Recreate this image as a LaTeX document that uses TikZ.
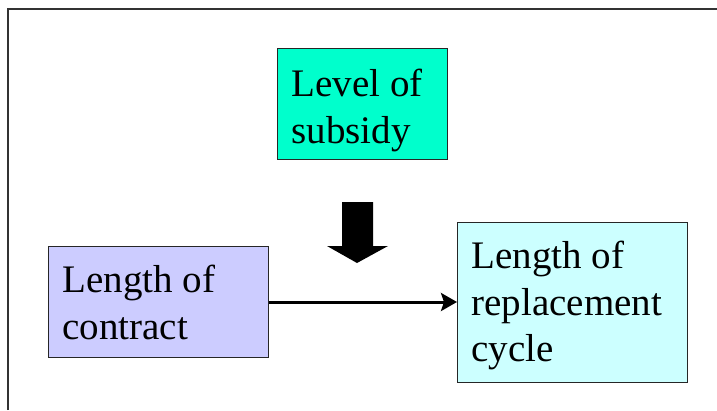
\documentclass[tikz,border=0pt]{standalone}
\usepackage{fontspec}
\setmainfont{Liberation Serif}
\usetikzlibrary{arrows.meta}

\definecolor{subsidyfill}{HTML}{00FFCC}
\definecolor{contractfill}{HTML}{CCCCFF}
\definecolor{cyclefill}{HTML}{CCFFFF}
\definecolor{framegray}{HTML}{333333}

% box text: width, height, first-baseline drop, lines
\newcommand{\boxlines}[4]{\parbox[t][#2pt][t]{#1pt}{\rule{0pt}{#3pt}#4}}

\begin{document}
\begin{tikzpicture}[x=1pt, y=-1pt,
  box/.style={draw=black!85, line width=1pt, anchor=north west,
    inner xsep=14pt, inner ysep=0pt,
    font=\fontsize{39}{46.5}\selectfont},
  link/.style={line width=3pt, -{Stealth[length=16pt, width=18pt, inset=3pt]}},
  blockarrow/.style={fill=black}]
  \useasboundingbox (0,0) rectangle (717,410);

  % slide frame (top and left edges)
  \draw[framegray, line width=2pt] (8,410) -- (8,8.5) -- (717,8.5);

  \node[box, fill=subsidyfill] (subsidy) at (277,48)
    {\boxlines{142}{111}{48}{Level of\\subsidy}};
  \node[box, fill=contractfill] (contract) at (48,246)
    {\boxlines{192}{111}{46}{Length of\\contract}};
  \node[box, fill=cyclefill] (cycle) at (457,222)
    {\boxlines{202}{160}{46}{Length of\\replacement\\cycle}};

  % thick downward block arrow under the subsidy box
  \fill[blockarrow] (342,202) -- (373,202) -- (373,246) -- (388,246)
    -- (357,263) -- (327,246) -- (342,246) -- cycle;

  \draw[link] (contract.east) -- (cycle.west |- contract.east);
\end{tikzpicture}
\end{document}
